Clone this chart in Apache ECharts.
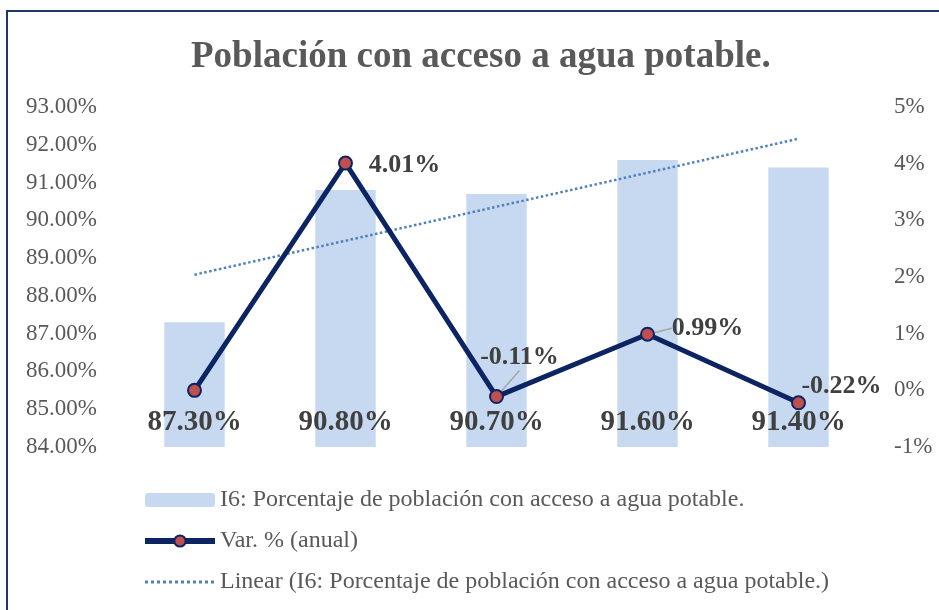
<!DOCTYPE html>
<html>
<head>
<meta charset="utf-8">
<script src="https://cdn.jsdelivr.net/npm/echarts@6.0.0/dist/echarts.min.js"></script>
<style>
  html, body { margin: 0; padding: 0; background: #fff; }
  #chart { width: 939px; height: 610px; }
</style>
</head>
<body>
<div id="chart"></div>
<script>
// datos
const categories = ['1', '2', '3', '4', '5']
const poblacion = [87.3, 90.8, 90.7, 91.6, 91.4]
const variacion = [0.0, 4.01, -0.11, 0.99, -0.22]
const tendencia = [88.56, 89.46, 90.36, 91.26, 92.16]
const leftTicks = [84, 85, 86, 87, 88, 89, 90, 91, 92, 93]
const rightTicks = [-1, 0, 1, 2, 3, 4, 5]

const serif = '"Liberation Serif", "DejaVu Serif", serif'
const grey = '#595959'
const dark = '#404040'
const navy = '#0d2463'

// desplazamiento de cada etiqueta de la línea respecto al punto
const labelShift = [[0, 0], [59, 2], [23, -39], [60, -6], [43, -17]]

const chart = echarts.init(document.getElementById('chart'))

chart.setOption({
  animation: false,
  backgroundColor: '#fff',
  title: {
    text: 'Población con acceso a agua potable.',
    left: 186,
    top: 34,
    textStyle: { fontFamily: serif, fontSize: 37, fontWeight: 'bold', color: grey },
  },
  graphic: [
    {
      type: 'rect',
      shape: { x: 7, y: 11, width: 940, height: 620 },
      style: { fill: 'none', stroke: '#1f3864', lineWidth: 2 },
      silent: true,
    },
  ],
  legend: {
    orient: 'vertical',
    left: 137,
    top: 483,
    itemGap: 17,
    itemWidth: 70,
    itemHeight: 14,
    textStyle: { fontFamily: serif, fontSize: 24, color: grey },
    data: [
      { name: 'I6: Porcentaje de población con acceso a agua potable.' },
      { name: 'Var. % (anual)', lineStyle: { width: 6 } },
      {
        name: 'Linear (I6: Porcentaje de población con acceso a agua potable.)',
        itemStyle: { opacity: 0 },
        lineStyle: { width: 3 },
      },
    ],
  },
  grid: { left: 119, right: 65, top: 107, bottom: 163 },
  xAxis: {
    type: 'category',
    data: categories,
    axisLine: { show: false },
    axisTick: { show: false },
    axisLabel: { show: false },
  },
  yAxis: [
    {
      type: 'value',
      min: leftTicks[0],
      max: leftTicks[leftTicks.length - 1],
      interval: 1,
      splitLine: { show: false },
      axisLine: { show: false },
      axisTick: { show: false },
      axisLabel: {
        fontFamily: serif,
        fontSize: 23,
        color: grey,
        margin: 22,
        formatter: (v) => v.toFixed(2) + '%',
      },
    },
    {
      type: 'value',
      min: rightTicks[0],
      max: rightTicks[rightTicks.length - 1],
      interval: 1,
      splitLine: { show: false },
      axisLine: { show: false },
      axisTick: { show: false },
      axisLabel: {
        fontFamily: serif,
        fontSize: 23,
        color: grey,
        margin: 20,
        formatter: (v) => v + '%',
      },
    },
  ],
  series: [
    {
      name: 'I6: Porcentaje de población con acceso a agua potable.',
      type: 'bar',
      data: poblacion,
      barWidth: '40%',
      itemStyle: { color: '#c6d9f1' },
      label: {
        show: true,
        position: 'insideBottom',
        distance: 10,
        fontFamily: serif,
        fontSize: 29,
        fontWeight: 'bold',
        color: dark,
        formatter: (p) => p.value.toFixed(2) + '%',
      },
      z: 1,
    },
    {
      name: 'Var. % (anual)',
      type: 'line',
      yAxisIndex: 1,
      data: variacion.map((v, i) => ({
        value: v,
        label: { show: i > 0 },
        labelLine: { show: i === 2 || i === 3 },
      })),
      symbol: 'circle',
      symbolSize: 13,
      lineStyle: { color: navy, width: 5 },
      itemStyle: { color: '#c0504d', borderColor: navy, borderWidth: 2 },
      label: {
        position: 'inside',
        fontFamily: serif,
        fontSize: 26,
        fontWeight: 'bold',
        color: dark,
        formatter: (p) => p.value.toFixed(2) + '%',
      },
      labelLine: { lineStyle: { color: '#a6a6a6', width: 1.5 } },
      labelLayout: (p) => ({ dx: labelShift[p.dataIndex][0], dy: labelShift[p.dataIndex][1] }),
      z: 3,
    },
    {
      name: 'Linear (I6: Porcentaje de población con acceso a agua potable.)',
      type: 'line',
      data: tendencia,
      symbol: 'none',
      lineStyle: { color: '#4f81bd', width: 2.5, type: 'dotted' },
      z: 2,
    },
  ],
})
</script>
</body>
</html>
